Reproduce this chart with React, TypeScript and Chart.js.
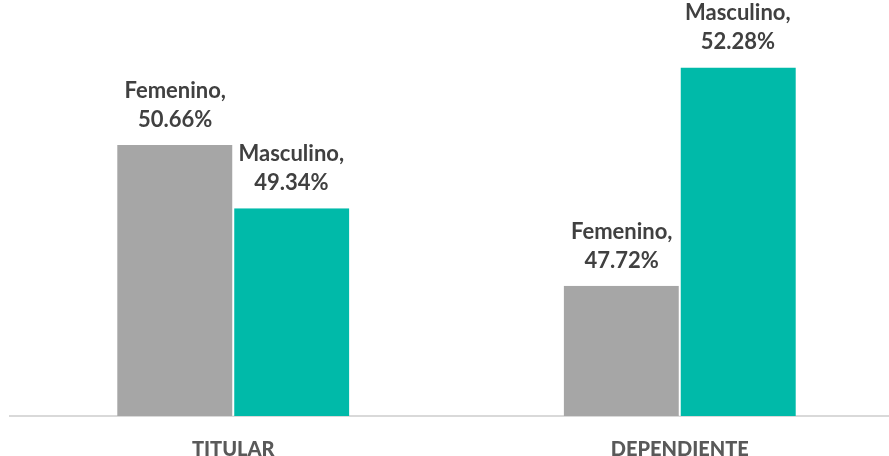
import React, { useEffect, useRef } from "react";
import { Chart, registerables } from "chart.js";

Chart.register(...registerables);

const categories = ["TITULAR", "DEPENDIENTE"];
const seriesNames = ["Femenino", "Masculino"];
const femenino = [50.66, 47.72];
const masculino = [49.34, 52.28];
const colors = ["#A6A6A6", "#00BAA9"];

const FONT = "Lato, 'Open Sans', sans-serif";

const labelPlugin = {
  id: "twoLineLabels",
  afterDatasetsDraw(chart: any) {
    const ctx = chart.ctx;
    ctx.save();
    ctx.font = `bold 22px ${FONT}`;
    ctx.fillStyle = "#404040";
    ctx.textAlign = "center";
    ctx.textBaseline = "alphabetic";
    chart.data.datasets.forEach((ds: any, di: number) => {
      const meta = chart.getDatasetMeta(di);
      meta.data.forEach((bar: any, i: number) => {
        const v = ds.data[i] as number;
        const x = bar.x;
        const y = bar.y;
        ctx.fillText(`${ds.label},`, x, y - 47);
        ctx.fillText(`${v.toFixed(2)}%`, x, y - 18);
      });
    });
    ctx.restore();
  },
};

export default function App() {
  const ref = useRef<HTMLCanvasElement | null>(null);
  useEffect(() => {
    document.body.style.margin = "0";
    document.body.style.overflow = "hidden";
    document.documentElement.style.overflow = "hidden";
    const chart = new Chart(ref.current as HTMLCanvasElement, {
      type: "bar",
      data: {
        labels: categories,
        datasets: [
          {
            label: seriesNames[0],
            data: femenino,
            backgroundColor: colors[0],
            borderColor: "#FFFFFF",
            borderWidth: { left: 0, right: 1, top: 0, bottom: 0 } as any,
            categoryPercentage: 0.52,
            barPercentage: 1.0,
          },
          {
            label: seriesNames[1],
            data: masculino,
            backgroundColor: colors[1],
            borderColor: "#FFFFFF",
            borderWidth: { left: 1, right: 0, top: 0, bottom: 0 } as any,
            categoryPercentage: 0.52,
            barPercentage: 1.0,
          },
        ],
      },
      options: {
        animation: false,
        responsive: false,
        maintainAspectRatio: false,
        layout: { padding: { left: 10, right: 0, top: 33, bottom: 0 } },
        plugins: {
          legend: { display: false },
          tooltip: { enabled: false },
        },
        scales: {
          x: {
            grid: { display: false },
            border: { display: true, color: "#D9D9D9", width: 2 },
            ticks: {
              color: "#595959",
              font: { family: FONT, size: 20, weight: 900 },
              padding: 14,
            },
            afterFit: (s: any) => {
              s.height = 40;
            },
          },
          y: {
            display: false,
            min: 45,
            max: 53,
          },
        },
      },
      plugins: [labelPlugin],
    });
    return () => chart.destroy();
  }, []);
  return (
    <div style={{ width: 903, height: 456, overflow: "hidden" }}>
      <canvas ref={ref} width={903} height={456} />
    </div>
  );
}
